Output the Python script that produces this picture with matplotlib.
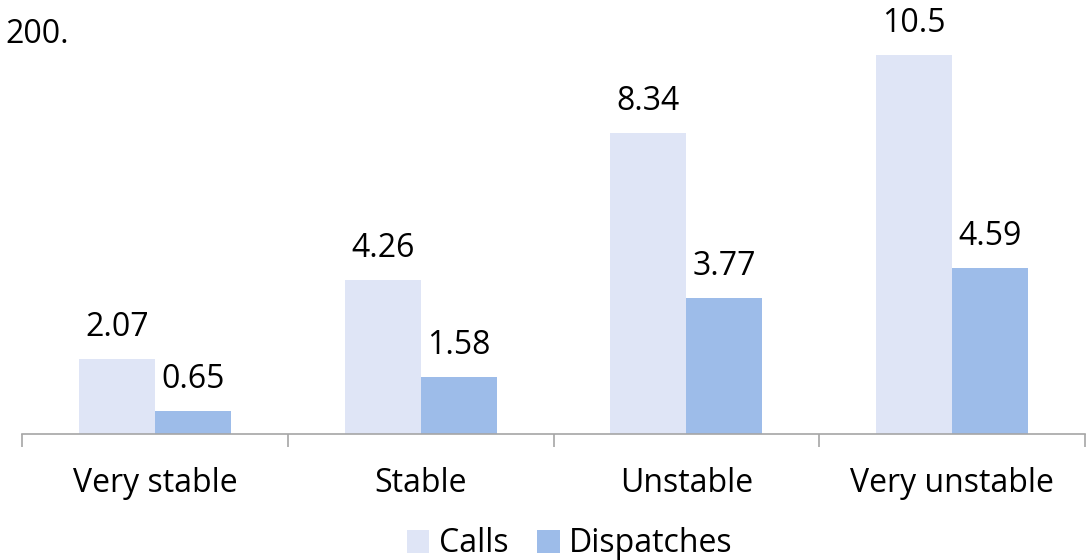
import matplotlib
matplotlib.use("Agg")
import matplotlib.pyplot as plt
import numpy as np

categories = ["Very stable", "Stable", "Unstable", "Very unstable"]
calls = [2.07, 4.26, 8.34, 10.5]
dispatches = [0.65, 1.58, 3.77, 4.59]
calls_labels = ["2.07", "4.26", "8.34", "10.5"]
dispatch_labels = ["0.65", "1.58", "3.77", "4.59"]

plt.rcParams["font.family"] = ["Open Sans", "DejaVu Sans"]
FS = 23

W, H = 1092, 560
fig = plt.figure(figsize=(W / 100, H / 100), dpi=100)
ax = fig.add_axes([22 / W, (H - 434) / H, (1085 - 22) / W, 433 / H])

x = np.arange(len(categories))
bw = 0.286
c_calls = "#DFE5F6"
c_disp = "#9DBCE9"
ax.bar(x - bw / 2, calls, bw, color=c_calls, label="Calls")
ax.bar(x + bw / 2, dispatches, bw, color=c_disp, label="Dispatches")

# value labels: baseline sits ~23 px above the bar top
for xi, v, s in zip(x, calls, calls_labels):
    ax.annotate(s, (xi - bw / 2, v), xytext=(0, 16.5), textcoords="offset points",
                ha="center", va="baseline", fontsize=FS)
for xi, v, s in zip(x, dispatches, dispatch_labels):
    ax.annotate(s, (xi + bw / 2, v), xytext=(0, 16.5), textcoords="offset points",
                ha="center", va="baseline", fontsize=FS)

ax.set_xlim(-0.5, len(categories) - 0.5)
ax.set_ylim(0, 12)
for side in ("top", "right", "left"):
    ax.spines[side].set_visible(False)
ax.spines["bottom"].set_color("#A6A6A6")
ax.spines["bottom"].set_linewidth(1.2)
ax.set_yticks([])
ax.set_xticks(np.arange(len(categories) + 1) - 0.5)
ax.set_xticklabels([])
ax.tick_params(axis="x", which="major", length=9, width=1.2, color="#A6A6A6", direction="out")
for xi, s in zip(x, categories):
    ax.annotate(s, (xi, 0), xytext=(0, -58 * 0.72), textcoords="offset points",
                ha="center", va="baseline", fontsize=FS)

ax.legend(loc="center", bbox_to_anchor=((570 - 22) / 1063, -(544 - 434) / 433), ncol=2,
          frameon=False, fontsize=FS, handlelength=0.7, handleheight=0.7,
          handletextpad=0.3, columnspacing=0.9)

fig.text(5 / W, 1 - 43 / H, "200.", fontsize=FS, ha="left", va="baseline")

fig.savefig("out.png", dpi=100)
